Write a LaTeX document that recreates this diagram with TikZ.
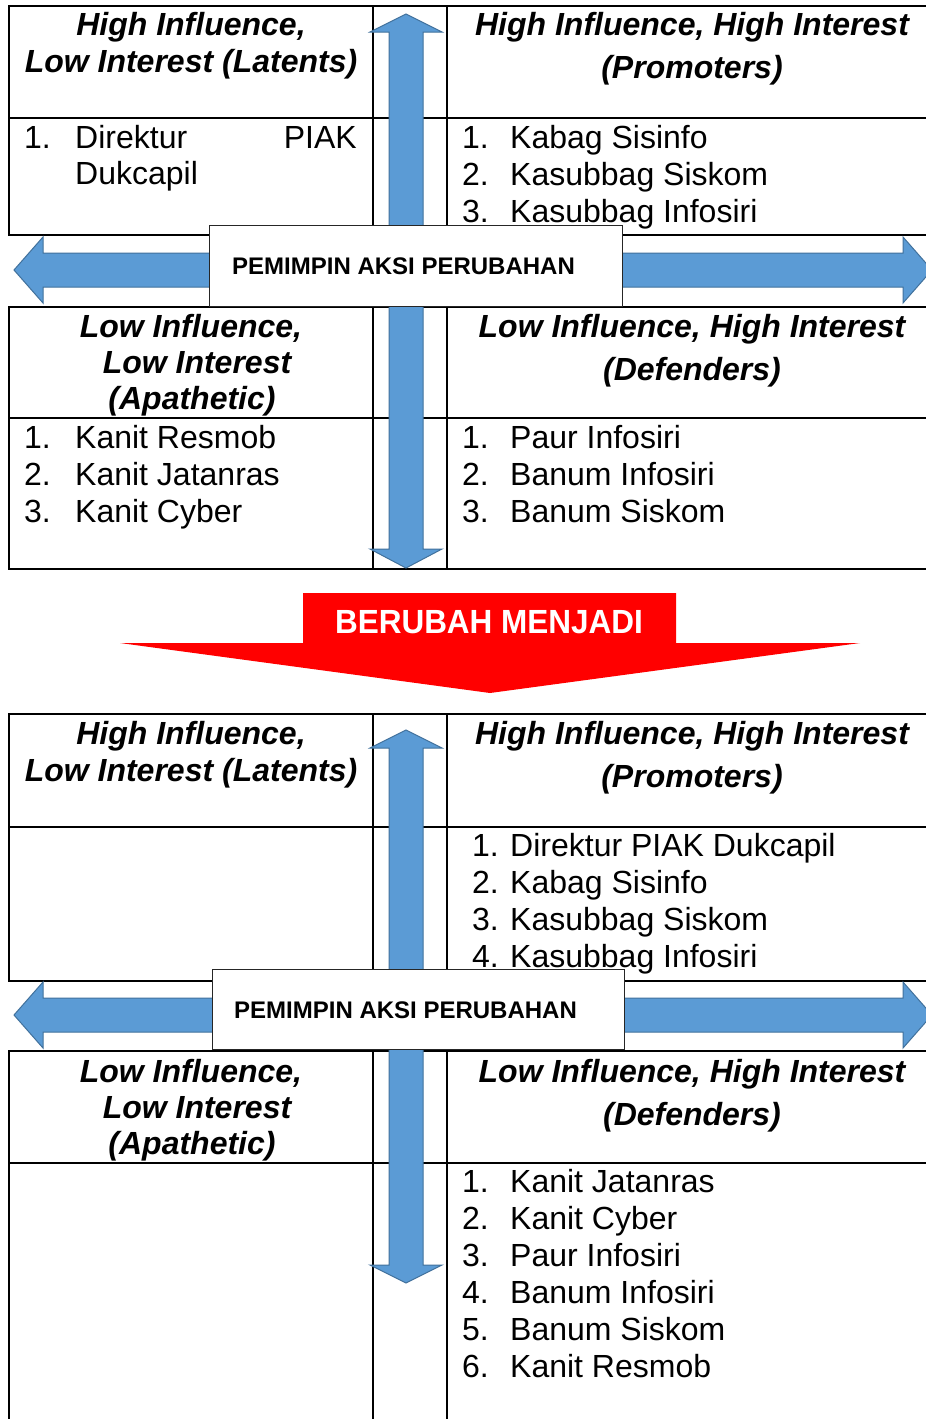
\documentclass[tikz,border=0pt]{standalone}
\usepackage{fontspec}
\usepackage{graphicx}
\setmainfont{Liberation Sans}
\definecolor{arrowblue}{HTML}{5B9BD5}
\definecolor{arrowedge}{HTML}{41719C}
\begin{document}
\begin{tikzpicture}[x=1pt,y=-1pt,
  tline/.style={line width=2pt, draw=black},
  barrow/.style={fill=arrowblue, draw=arrowedge, line width=1pt, line join=miter},
  hdr/.style={font=\fontsize{32}{37}\selectfont\bfseries\itshape, inner sep=0pt, anchor=base},
  itm/.style={font=\fontsize{32}{37}\selectfont, inner sep=0pt, anchor=base west},
  cbox/.style={draw=black!85, line width=1.3pt, fill=white, inner sep=0pt, anchor=north west},
  ctext/.style={font=\fontsize{24}{28}\selectfont\bfseries, inner sep=0pt, anchor=base west}]
\clip (0,0) rectangle (926,1419);
\fill[white] (0,0) rectangle (926,1419);

% ---------- table 1 ----------
\draw[tline] (9,6) rectangle (950,235);
\draw[tline] (9,118) -- (950,118);
\draw[tline] (373,6) -- (373,235);
\draw[tline] (447,6) -- (447,235);
\draw[tline] (9,307) rectangle (950,569);
\draw[tline] (9,418) -- (950,418);
\draw[tline] (373,307) -- (373,569);
\draw[tline] (447,307) -- (447,569);

% arrows table 1
\fill[barrow] (406,14) -- (442,32) -- (423,32) -- (423,549) -- (442,549) -- (406,568)
  -- (370,549) -- (389,549) -- (389,32) -- (370,32) -- cycle;
\fill[barrow] (14,270) -- (43,237) -- (43,253) -- (903,253) -- (903,237) -- (932,270)
  -- (903,303) -- (903,287) -- (43,287) -- (43,303) -- cycle;

% texts table 1
\node[hdr] (h1a) at (191,35) {High Influence,};
\node[hdr] (h1b) at (191,72) {Low Interest (Latents)};
\node[hdr] (h2a) at (692,35) {High Influence, High Interest};
\node[hdr] (h2b) at (692,78) {(Promoters)};
\node[itm] (a1n) at (24,148) {1.};
\node[itm] (a1t) at (75,148) {Direktur};
\node[itm, anchor=base east] (a1p) at (357,148) {PIAK};
\node[itm] (a1d) at (75,184) {Dukcapil};
\node[itm] (b1n) at (462,148) {1.};
\node[itm] (b1t) at (510,148) {Kabag Sisinfo};
\node[itm] (b2n) at (462,185) {2.};
\node[itm] (b2t) at (510,185) {Kasubbag Siskom};
\node[itm] (b3n) at (462,222) {3.};
\node[itm] (b3t) at (510,222) {Kasubbag Infosiri};

\node[hdr] (h3a) at (191,337) {Low Influence,};
\node[hdr] (h3b) at (197,373) {Low Interest};
\node[hdr] (h3c) at (192,409) {(Apathetic)};
\node[hdr] (h4a) at (692,337) {Low Influence, High Interest};
\node[hdr] (h4b) at (692,380) {(Defenders)};
\node[itm] (c1n) at (24,448) {1.};
\node[itm] (c1t) at (75,448) {Kanit Resmob};
\node[itm] (c2n) at (24,485) {2.};
\node[itm] (c2t) at (75,485) {Kanit Jatanras};
\node[itm] (c3n) at (24,522) {3.};
\node[itm] (c3t) at (75,522) {Kanit Cyber};
\node[itm] (d1n) at (462,448) {1.};
\node[itm] (d1t) at (510,448) {Paur Infosiri};
\node[itm] (d2n) at (462,485) {2.};
\node[itm] (d2t) at (510,485) {Banum Infosiri};
\node[itm] (d3n) at (462,522) {3.};
\node[itm] (d3t) at (510,522) {Banum Siskom};

\node[cbox, minimum width=413pt, minimum height=81pt] (lead1) at (209,225) {};
\node[ctext] (lead1t) at (232,274) {PEMIMPIN AKSI PERUBAHAN};

% ---------- red arrow ----------
\fill[red] (303,593) -- (676,593) -- (676,643) -- (860,643) -- (490,693) -- (120,643)
  -- (303,643) -- cycle;
\node[font=\fontsize{33.5}{38}\selectfont\bfseries, text=white, inner sep=0pt, anchor=base]
  (change) at (489,633) {\scalebox{0.94}[1]{BERUBAH MENJADI}};

% ---------- table 2 ----------
\draw[tline] (9,714) rectangle (950,981);
\draw[tline] (9,827) -- (950,827);
\draw[tline] (373,714) -- (373,981);
\draw[tline] (447,714) -- (447,981);
\draw[tline] (9,1440) -- (9,1051) -- (950,1051);
\draw[tline] (9,1163) -- (950,1163);
\draw[tline] (373,1051) -- (373,1440);
\draw[tline] (447,1051) -- (447,1440);

\fill[barrow] (406,730) -- (442,748) -- (423,748) -- (423,1265) -- (442,1265) -- (406,1283)
  -- (370,1265) -- (389,1265) -- (389,748) -- (370,748) -- cycle;
\fill[barrow] (14,1015) -- (43,982) -- (43,998) -- (903,998) -- (903,982) -- (932,1015)
  -- (903,1048) -- (903,1032) -- (43,1032) -- (43,1048) -- cycle;

\node[hdr] (k1a) at (191,744) {High Influence,};
\node[hdr] (k1b) at (191,781) {Low Interest (Latents)};
\node[hdr] (k2a) at (692,744) {High Influence, High Interest};
\node[hdr] (k2b) at (692,787) {(Promoters)};
\node[itm] (e1n) at (472,856) {1.};
\node[itm] (e1t) at (510,856) {Direktur PIAK Dukcapil};
\node[itm] (e2n) at (472,893) {2.};
\node[itm] (e2t) at (510,893) {Kabag Sisinfo};
\node[itm] (e3n) at (472,930) {3.};
\node[itm] (e3t) at (510,930) {Kasubbag Siskom};
\node[itm] (e4n) at (472,967) {4.};
\node[itm] (e4t) at (510,967) {Kasubbag Infosiri};

\node[hdr] (k3a) at (191,1082) {Low Influence,};
\node[hdr] (k3b) at (197,1118) {Low Interest};
\node[hdr] (k3c) at (192,1154) {(Apathetic)};
\node[hdr] (k4a) at (692,1082) {Low Influence, High Interest};
\node[hdr] (k4b) at (692,1125) {(Defenders)};
\node[itm] (f1n) at (462,1192) {1.};
\node[itm] (f1t) at (510,1192) {Kanit Jatanras};
\node[itm] (f2n) at (462,1229) {2.};
\node[itm] (f2t) at (510,1229) {Kanit Cyber};
\node[itm] (f3n) at (462,1266) {3.};
\node[itm] (f3t) at (510,1266) {Paur Infosiri};
\node[itm] (f4n) at (462,1303) {4.};
\node[itm] (f4t) at (510,1303) {Banum Infosiri};
\node[itm] (f5n) at (462,1340) {5.};
\node[itm] (f5t) at (510,1340) {Banum Siskom};
\node[itm] (f6n) at (462,1377) {6.};
\node[itm] (f6t) at (510,1377) {Kanit Resmob};

\node[cbox, minimum width=412pt, minimum height=80pt] (lead2) at (212,969) {};
\node[ctext] (lead2t) at (234,1018) {PEMIMPIN AKSI PERUBAHAN};
\end{tikzpicture}
\end{document}
